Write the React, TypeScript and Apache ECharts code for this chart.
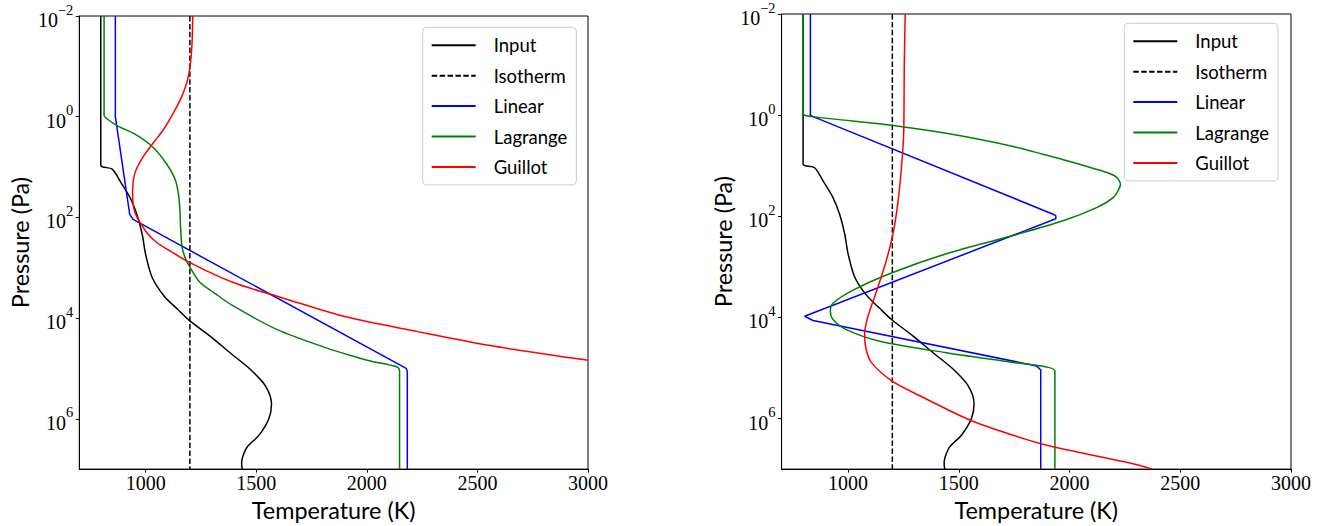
import React, { useEffect, useRef } from "react";
import * as echarts from "echarts";

// ---- axes / labels ----
const T_TICKS = [1000, 1500, 2000, 2500, 3000];
const P_TICKS = [1e-2, 1e0, 1e2, 1e4, 1e6];
const T_MIN = 700;
const T_MAX = 3000;
const P_MIN = 1e-2;
const P_MAX = 1e7;
const SERIES_NAMES = ["Input", "Isotherm", "Linear", "Lagrange", "Guillot"];
const X_TITLE = "Temperature (K)";
const Y_TITLE = "Pressure (Pa)";

// ---- profiles: [temperature (K), pressure (Pa)] ----
const inputProfile = [
  [797, 1e-2], [797, 9.1], [849, 11.0], [887, 20], [932, 42.7], [962, 91.2],
  [985, 224], [1000, 550], [1030, 1585], [1083, 3630], [1143, 6610],
  [1196, 1.1e4], [1294, 2.34e4], [1384, 5.0e4], [1474, 1.05e5], [1542, 2.24e5],
  [1569, 5.1e5], [1557, 1.0e6], [1512, 2.14e6], [1459, 3.63e6], [1437, 6.03e6],
  [1434, 8.1e6], [1437, 1e7],
];

const isothermProfile = [[1200, 1e-2], [1200, 1e7]];

const linearLeft = [
  [863, 1e-2], [863, 1.0], [928, 87], [943, 110], [2178, 1.0e5], [2183, 1.15e5], [2183, 1e7],
];

const lagrangeLeft = [
  [812, 1e-2], [812, 0.95], [825, 1.1], [870, 1.5], [950, 2.2], [1032, 4.0],
  [1095, 8.7], [1135, 18.6], [1152, 47], [1158, 160], [1165, 400], [1180, 660],
  [1196, 912], [1245, 1950], [1310, 3160], [1396, 5750], [1600, 1.74e4],
  [1823, 4.0e4], [1930, 5.6e4], [2016, 7.1e4], [2100, 8.5e4], [2140, 9.5e4],
  [2148, 1.12e5], [2148, 1e7],
];

const guillotLeft = [
  [1213, 1e-2], [1208, 0.047], [1193, 0.16], [1163, 0.4], [1125, 0.85],
  [1080, 1.82], [1035, 3.3], [989, 6.2], [952, 12.9], [941, 32.4], [952, 81],
  [1005, 200], [1050, 316], [1097, 427], [1200, 794], [1393, 1950],
  [1620, 3980], [1900, 9330], [2230, 1.86e4], [2550, 3.47e4], [3000, 6.9e4],
];

const linearRight = [
  [830, 1e-2], [830, 1.0], [842, 1.07], [1926, 91], [1938, 98], [1938, 112],
  [804, 9.5e3], [842, 1.15e4], [1851, 9.1e4], [1870, 1.1e5], [1870, 1e7],
];

const lagrangeRight = [
  [797, 1e-2], [797, 0.93], [842, 1.07], [1196, 1.58], [1444, 2.29], [1745, 4.17],
  [1971, 7.6], [2152, 12.9], [2210, 16.6], [2230, 23.4], [2222, 29.5], [2197, 42.7],
  [2122, 67.6], [1971, 123], [1745, 240], [1444, 550], [1196, 1320], [1023, 2880],
  [932, 5250], [920, 7590], [932, 1.1e4], [992, 1.74e4], [1143, 2.95e4],
  [1444, 5.0e4], [1745, 7.76e4], [1896, 9.55e4], [1934, 1.15e5], [1934, 1e7],
];

const guillotRight = [
  [1258, 1e-2], [1254, 0.1], [1251, 2.45], [1241, 11], [1226, 50], [1203, 224],
  [1173, 741], [1136, 2450], [1105, 6030], [1086, 1.1e4], [1075, 2.04e4],
  [1080, 3.98e4], [1105, 7.76e4], [1196, 1.78e5], [1324, 3.55e5], [1550, 1.07e6],
  [1745, 2.14e6], [1926, 3.63e6], [2273, 7.6e6], [2374, 1e7],
];

// ---- styling / layout ----
const SANS = "Lato, 'DejaVu Sans', sans-serif";
const SERIF = "'Liberation Serif', 'DejaVu Serif', serif";

const PANELS = [
  {
    grid: { left: 79.3, top: 16, width: 508.7, height: 454 },
    legend: { left: 422.7, top: 27.3 },
    yNameGap: 48,
    profiles: [inputProfile, isothermProfile, linearLeft, lagrangeLeft, guillotLeft],
  },
  {
    grid: { left: 781.6, top: 12.7, width: 509.4, height: 457.3 },
    legend: { left: 1124.3, top: 23.3 },
    yNameGap: 47,
    profiles: [inputProfile, isothermProfile, linearRight, lagrangeRight, guillotRight],
  },
];

const LINE_STYLES: any[] = [
  { color: "#000000", type: "solid", smooth: 0.3 },
  { color: "#000000", type: [5.5, 2.4], smooth: false },
  { color: "#0000ff", type: "solid", smooth: false },
  { color: "#008000", type: "solid", smooth: 0.3 },
  { color: "#ff0000", type: "solid", smooth: 0.3 },
];

function powerLabel(v: number): string {
  const e = Math.round(Math.log10(v));
  const s = e < 0 ? "\u2212" + Math.abs(e) : String(e);
  return `{b|10}{s|${s}}`;
}

function buildOption(): any {
  return {
    animation: false,
    backgroundColor: "#ffffff",
    grid: PANELS.map((p) => ({
      ...p.grid,
      show: true,
      borderColor: "#000000",
      borderWidth: 1,
      backgroundColor: "transparent",
      containLabel: false,
    })),
    xAxis: PANELS.map((p, i) => ({
      type: "value",
      gridIndex: i,
      min: T_MIN,
      max: T_MAX,
      name: X_TITLE,
      nameLocation: "middle",
      nameGap: 23,
      nameTextStyle: { fontFamily: SANS, fontSize: 23.4, color: "#000000" },
      axisLine: { show: true, lineStyle: { color: "#000000", width: 1 } },
      axisTick: { show: true, length: 3.5, customValues: T_TICKS, lineStyle: { color: "#000000", width: 1 } },
      axisLabel: {
        customValues: T_TICKS,
        margin: 4,
        fontFamily: SERIF,
        fontSize: 20,
        color: "#000000",
        formatter: (v: number) => String(v),
      },
      splitLine: { show: false },
    })),
    yAxis: PANELS.map((p, i) => ({
      type: "log",
      logBase: 10,
      gridIndex: i,
      min: P_MIN,
      max: P_MAX,
      inverse: true,
      name: Y_TITLE,
      nameLocation: "middle",
      nameGap: p.yNameGap,
      nameTextStyle: { fontFamily: SANS, fontSize: 23.4, color: "#000000" },
      axisLine: { show: true, lineStyle: { color: "#000000", width: 1 } },
      axisTick: { show: true, length: 3.5, customValues: P_TICKS, lineStyle: { color: "#000000", width: 1 } },
      axisLabel: {
        customValues: P_TICKS,
        margin: 6,
        formatter: powerLabel,
        rich: {
          b: { fontFamily: SERIF, fontSize: 20, lineHeight: 28, verticalAlign: "bottom", color: "#000000" },
          s: { fontFamily: SERIF, fontSize: 14.5, lineHeight: 15, verticalAlign: "top", color: "#000000" },
        },
      },
      splitLine: { show: false },
      minorTick: { show: false },
    })),
    legend: PANELS.map((p) => ({
      left: p.legend.left,
      top: p.legend.top,
      orient: "vertical",
      data: SERIES_NAMES,
      itemWidth: 44,
      itemHeight: 14,
      itemGap: 8.4,
      padding: [7, 9, 7, 8],
      backgroundColor: "rgba(255,255,255,0.8)",
      borderColor: "#cccccc",
      borderWidth: 1,
      borderRadius: 4,
      selectedMode: false,
      itemStyle: { opacity: 0 },
      textStyle: { fontFamily: SANS, fontSize: 18.5, color: "#000000", lineHeight: 22, padding: [0, 0, 0, 13] },
    })),
    series: PANELS.flatMap((p, i) =>
      SERIES_NAMES.map((name, j) => ({
        type: "line",
        name,
        xAxisIndex: i,
        yAxisIndex: i,
        data: p.profiles[j],
        symbol: "none",
        showSymbol: false,
        smooth: LINE_STYLES[j].smooth,
        clip: true,
        silent: true,
        z: 2 + j,
        emphasis: { disabled: true },
        lineStyle: { color: LINE_STYLES[j].color, width: 1.5, type: LINE_STYLES[j].type },
        itemStyle: { color: LINE_STYLES[j].color },
      }))
    ),
  };
}

export default function App() {
  const ref = useRef<HTMLDivElement | null>(null);
  useEffect(() => {
    if (!ref.current) return;
    const chart = echarts.init(ref.current, undefined, { renderer: "svg" });
    chart.setOption(buildOption());
    return () => chart.dispose();
  }, []);
  return (
    <div
      ref={ref}
      style={{ position: "absolute", left: 0, top: 0, width: 1326, height: 526, background: "#ffffff" }}
    />
  );
}
